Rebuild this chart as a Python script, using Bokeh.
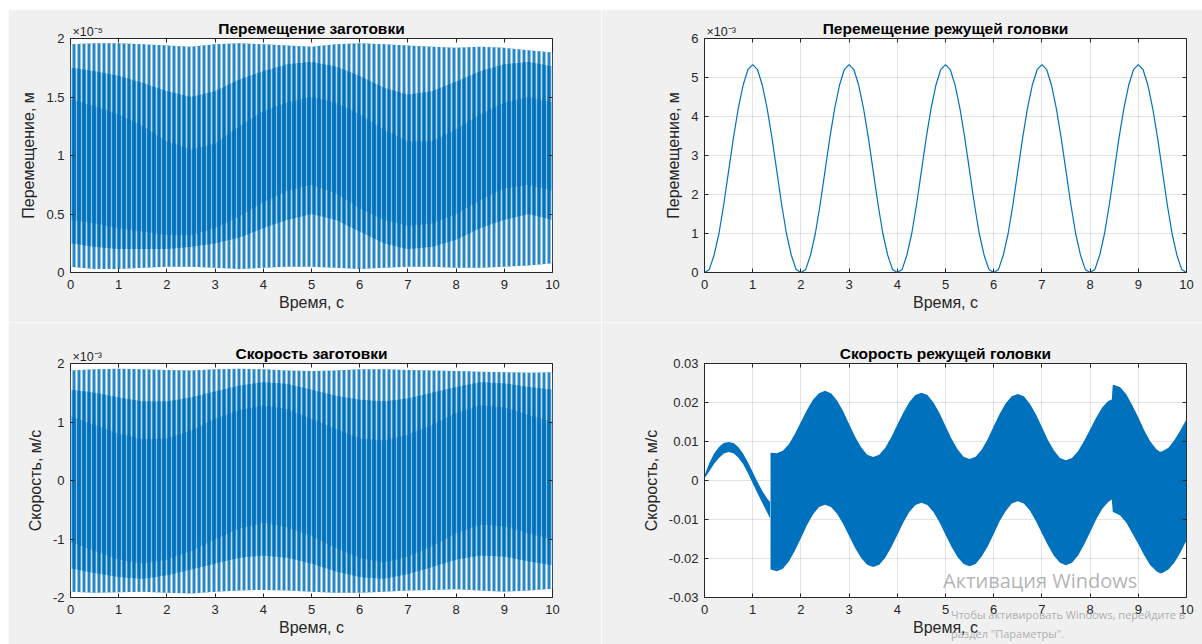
from bokeh.plotting import figure
from bokeh.layouts import row, column, Spacer
from bokeh.models import LinearAxis, FixedTicker, Range1d, Label, Title, Div, CustomJSTickFormatter
from bokeh.embed import file_html
from bokeh.resources import INLINE

# ---------------- data ----------------
time_ticks = [0, 1, 2, 3, 4, 5, 6, 7, 8, 9, 10]

tl_time = [0.0, 0.5, 1.0, 1.5, 2.0, 2.5, 3.0, 3.5, 4.0, 4.5, 5.0, 5.5, 6.0, 6.5, 7.0, 7.5, 8.0, 8.5, 9.0, 9.5, 10.0]
tl_peak_hi = [1.95, 1.96, 1.96, 1.95, 1.94, 1.93, 1.95, 1.96, 1.95, 1.94, 1.93, 1.95, 1.96, 1.95, 1.94, 1.93, 1.92, 1.93, 1.92, 1.90, 1.88]
tl_peak_lo = [0.05, 0.03, 0.03, 0.04, 0.05, 0.05, 0.04, 0.03, 0.04, 0.05, 0.05, 0.04, 0.03, 0.04, 0.05, 0.05, 0.04, 0.04, 0.05, 0.06, 0.08]
tl_bulk_hi = [1.75, 1.72, 1.68, 1.62, 1.55, 1.50, 1.55, 1.65, 1.72, 1.78, 1.80, 1.76, 1.68, 1.58, 1.52, 1.55, 1.63, 1.72, 1.78, 1.80, 1.76]
tl_bulk_lo = [0.25, 0.22, 0.20, 0.20, 0.20, 0.22, 0.25, 0.30, 0.38, 0.45, 0.50, 0.45, 0.35, 0.25, 0.20, 0.22, 0.28, 0.38, 0.45, 0.50, 0.45]
tl_core_hi = [1.48, 1.42, 1.35, 1.25, 1.12, 1.05, 1.10, 1.25, 1.38, 1.45, 1.50, 1.45, 1.35, 1.22, 1.12, 1.12, 1.22, 1.35, 1.45, 1.50, 1.45]
tl_core_lo = [0.45, 0.42, 0.38, 0.35, 0.32, 0.32, 0.38, 0.48, 0.60, 0.70, 0.75, 0.68, 0.55, 0.45, 0.40, 0.42, 0.50, 0.62, 0.72, 0.75, 0.70]
tl_yticks = [0, 0.5, 1, 1.5, 2]

tr_time = [0.0, 0.1, 0.2, 0.3, 0.4, 0.5, 0.6, 0.7, 0.8, 0.9,
           1.0, 1.1, 1.2, 1.3, 1.4, 1.5, 1.6, 1.7, 1.8, 1.9,
           2.0, 2.1, 2.2, 2.3, 2.4, 2.5, 2.6, 2.7, 2.8, 2.9,
           3.0, 3.1, 3.2, 3.3, 3.4, 3.5, 3.6, 3.7, 3.8, 3.9,
           4.0, 4.1, 4.2, 4.3, 4.4, 4.5, 4.6, 4.7, 4.8, 4.9,
           5.0, 5.1, 5.2, 5.3, 5.4, 5.5, 5.6, 5.7, 5.8, 5.9,
           6.0, 6.1, 6.2, 6.3, 6.4, 6.5, 6.6, 6.7, 6.8, 6.9,
           7.0, 7.1, 7.2, 7.3, 7.4, 7.5, 7.6, 7.7, 7.8, 7.9,
           8.0, 8.1, 8.2, 8.3, 8.4, 8.5, 8.6, 8.7, 8.8, 8.9,
           9.0, 9.1, 9.2, 9.3, 9.4, 9.5, 9.6, 9.7, 9.8, 9.9, 10.0]
tr_disp = [0.00, 0.08, 0.45, 1.00, 1.75, 2.60, 3.45, 4.20, 4.80, 5.20,
           5.33, 5.20, 4.80, 4.20, 3.45, 2.60, 1.75, 1.00, 0.45, 0.08,
           0.00, 0.08, 0.45, 1.00, 1.75, 2.60, 3.45, 4.20, 4.80, 5.20,
           5.33, 5.20, 4.80, 4.20, 3.45, 2.60, 1.75, 1.00, 0.45, 0.08,
           0.00, 0.08, 0.45, 1.00, 1.75, 2.60, 3.45, 4.20, 4.80, 5.20,
           5.33, 5.20, 4.80, 4.20, 3.45, 2.60, 1.75, 1.00, 0.45, 0.08,
           0.00, 0.08, 0.45, 1.00, 1.75, 2.60, 3.45, 4.20, 4.80, 5.20,
           5.33, 5.20, 4.80, 4.20, 3.45, 2.60, 1.75, 1.00, 0.45, 0.08,
           0.00, 0.08, 0.45, 1.00, 1.75, 2.60, 3.45, 4.20, 4.80, 5.20,
           5.33, 5.20, 4.80, 4.20, 3.45, 2.60, 1.75, 1.00, 0.45, 0.08, 0.00]
tr_yticks = [0, 1, 2, 3, 4, 5, 6]

bl_time = tl_time
bl_peak_hi = [1.88, 1.90, 1.91, 1.90, 1.89, 1.88, 1.90, 1.91, 1.90, 1.88, 1.87, 1.88, 1.90, 1.90, 1.89, 1.88, 1.87, 1.86, 1.85, 1.84, 1.85]
bl_peak_lo = [-1.90, -1.92, -1.91, -1.90, -1.92, -1.93, -1.90, -1.88, -1.87, -1.88, -1.90, -1.92, -1.92, -1.90, -1.88, -1.87, -1.86, -1.88, -1.90, -1.88, -1.85]
bl_bulk_hi = [1.55, 1.50, 1.42, 1.35, 1.35, 1.42, 1.52, 1.62, 1.68, 1.65, 1.55, 1.45, 1.38, 1.35, 1.40, 1.50, 1.60, 1.68, 1.66, 1.60, 1.55]
bl_bulk_lo = [-1.50, -1.58, -1.65, -1.68, -1.62, -1.52, -1.42, -1.32, -1.28, -1.32, -1.42, -1.55, -1.65, -1.68, -1.60, -1.48, -1.35, -1.28, -1.30, -1.38, -1.45]
bl_core_hi = [1.10, 0.95, 0.80, 0.70, 0.72, 0.85, 1.05, 1.20, 1.28, 1.22, 1.05, 0.88, 0.72, 0.68, 0.78, 0.95, 1.15, 1.28, 1.25, 1.12, 1.00]
bl_core_lo = [-1.05, -1.20, -1.35, -1.42, -1.35, -1.20, -1.00, -0.82, -0.72, -0.80, -0.95, -1.15, -1.32, -1.40, -1.30, -1.12, -0.90, -0.75, -0.78, -0.90, -1.00]
bl_yticks = [-2, -1, 0, 1, 2]

br_time1 = [0.0, 0.1, 0.2, 0.3, 0.4, 0.5, 0.6, 0.7, 0.8, 0.9, 1.0, 1.1, 1.2, 1.3, 1.36]
br_hi1 = [0.0013, 0.0045, 0.0069, 0.0086, 0.0096, 0.0099, 0.0096, 0.0086, 0.0069, 0.0047, 0.0022, -0.0004, -0.0027, -0.0046, -0.0055]
br_lo1 = [0.0006, 0.0024, 0.0043, 0.0058, 0.0069, 0.0073, 0.0070, 0.0059, 0.0042, 0.0019, -0.0007, -0.0033, -0.0058, -0.0082, -0.0097]
br_time2 = [1.37, 1.5, 1.625, 1.75, 1.875, 2.0, 2.125, 2.25, 2.375, 2.5,
            2.625, 2.75, 2.875, 3.0, 3.125, 3.25, 3.375, 3.5,
            3.625, 3.75, 3.875, 4.0, 4.125, 4.25, 4.375, 4.5,
            4.625, 4.75, 4.875, 5.0, 5.125, 5.25, 5.375, 5.5,
            5.625, 5.75, 5.875, 6.0, 6.125, 6.25, 6.375, 6.5,
            6.625, 6.75, 6.875, 7.0, 7.125, 7.25, 7.375, 7.5,
            7.625, 7.75, 7.875, 8.0, 8.125, 8.25, 8.375,
            8.45, 8.47,
            8.5, 8.625, 8.75, 8.875, 9.0, 9.125, 9.25, 9.375,
            9.45,
            9.5, 9.625, 9.75, 9.875, 10.0]
br_hi2 = [0.0071, 0.0070, 0.0076, 0.0093, 0.0119, 0.0150, 0.0181, 0.0207, 0.0224, 0.0230,
          0.0224, 0.0205, 0.0178, 0.0145, 0.0112, 0.0085, 0.0066, 0.0060,
          0.0066, 0.0084, 0.0111, 0.0143, 0.0174, 0.0201, 0.0219, 0.0225,
          0.0219, 0.0200, 0.0173, 0.0140, 0.0107, 0.0080, 0.0061, 0.0055,
          0.0061, 0.0079, 0.0106, 0.0139, 0.0171, 0.0198, 0.0216, 0.0222,
          0.0216, 0.0197, 0.0170, 0.0137, 0.0104, 0.0077, 0.0058, 0.0052,
          0.0058, 0.0075, 0.0101, 0.0131, 0.0161, 0.0187, 0.0204,
          0.0208, 0.0245,
          0.0245, 0.0239, 0.0221, 0.0193, 0.0162, 0.0128, 0.0100, 0.0080,
          0.0074,
          0.0075, 0.0084, 0.0104, 0.0129, 0.0157]
br_lo2 = [-0.0228, -0.0233, -0.0226, -0.0208, -0.0180, -0.0148, -0.0115, -0.0087, -0.0068, -0.0062,
          -0.0068, -0.0085, -0.0111, -0.0142, -0.0173, -0.0199, -0.0216, -0.0222,
          -0.0216, -0.0198, -0.0171, -0.0140, -0.0108, -0.0081, -0.0063, -0.0057,
          -0.0063, -0.0081, -0.0107, -0.0139, -0.0170, -0.0196, -0.0214, -0.0220,
          -0.0214, -0.0195, -0.0169, -0.0137, -0.0104, -0.0078, -0.0059, -0.0053,
          -0.0059, -0.0077, -0.0104, -0.0135, -0.0166, -0.0193, -0.0211, -0.0217,
          -0.0211, -0.0192, -0.0165, -0.0133, -0.0100, -0.0073, -0.0055,
          -0.0049, -0.0080,
          -0.0082, -0.0090, -0.0108, -0.0135, -0.0163, -0.0192, -0.0217, -0.0233,
          -0.0238,
          -0.0237, -0.0228, -0.0210, -0.0184, -0.0154]
br_yticks = [-0.03, -0.02, -0.01, 0, 0.01, 0.02, 0.03]

titles = ["Перемещение заготовки", "Перемещение режущей головки",
          "Скорость заготовки", "Скорость режущей головки"]
xlabel = "Время, с"
ylabels = ["Перемещение, м", "Перемещение, м", "Скорость, м/с", "Скорость, м/с"]
exponents = ["×10⁻⁵", "×10⁻³", "×10⁻³", None]
watermark = ["Активация Windows", "Чтобы активировать Windows, перейдите в", "раздел \"Параметры\"."]

# ---------------- style ----------------
BLUE = "#0072BD"
AX = "#262626"
BG = "#F0F0F0"
FONT = "Liberation Sans"

FMT = CustomJSTickFormatter(code="""
  if (Math.abs(tick) < 1e-12) { return "0"; }
  return String(Math.round(tick * 10000) / 10000);
""")
BLANK = CustomJSTickFormatter(code="return '';")


def make_fig(w, h, bl, br, bt, bb, title, ylabel, yr, yticks, grid, expo):
    p = figure(width=w, height=h, x_range=Range1d(0, 10), y_range=Range1d(*yr),
               output_backend="svg", toolbar_location=None,
               min_border_left=bl, min_border_right=br, min_border_top=bt, min_border_bottom=bb,
               background_fill_color="white", border_fill_color=BG,
               outline_line_color=AX, outline_line_width=1)

    xa = p.xaxis[0]
    ya = p.yaxis[0]
    xa.ticker = FixedTicker(ticks=time_ticks)
    ya.ticker = FixedTicker(ticks=yticks)
    xa.axis_label = xlabel
    ya.axis_label = ylabel
    for ax in (xa, ya):
        ax.formatter = FMT
        ax.major_tick_in = 4
        ax.major_tick_out = 0
        ax.minor_tick_in = 0
        ax.minor_tick_out = 0
        ax.axis_line_color = None
        ax.major_tick_line_color = AX
        ax.major_label_text_font = FONT
        ax.major_label_text_font_size = "13px"
        ax.major_label_text_color = AX
        ax.major_label_standoff = 6
        ax.axis_label_text_font = FONT
        ax.axis_label_text_font_size = "16px"
        ax.axis_label_text_font_style = "normal"
        ax.axis_label_text_color = AX
        ax.axis_label_standoff = 6
    xa.major_label_standoff = 7
    xa.axis_label_standoff = 2

    for place, ticks in (("above", time_ticks), ("right", yticks)):
        ax = LinearAxis(ticker=FixedTicker(ticks=ticks), formatter=BLANK,
                        major_label_text_font_size="1px",
                        major_tick_in=4, major_tick_out=0, minor_tick_in=0, minor_tick_out=0,
                        major_label_standoff=0, axis_line_color=None, major_tick_line_color=AX)
        p.add_layout(ax, place)

    p.add_layout(Title(text=title, align="center", text_font=FONT, text_font_size="15.5px",
                       text_font_style="bold", text_color="#000000", standoff=3), "above")
    if expo:
        # exponent of the y axis, drawn just above the top-left corner of the axes
        p.add_layout(Title(text=expo, align="left", text_font=FONT, text_font_size="12.5px",
                           text_font_style="normal", text_color=AX, standoff=-44, offset=2), "above")

    if grid:
        p.xgrid.ticker = FixedTicker(ticks=time_ticks)
        p.ygrid.ticker = FixedTicker(ticks=yticks)
        p.grid.grid_line_color = AX
        p.grid.grid_line_alpha = 0.13
    else:
        p.grid.visible = False
    return p


def dense(p, t, plo, phi, blo, bhi, clo, chi):
    p.varea(x=t, y1=plo, y2=phi, fill_color=BLUE, fill_alpha=0.85,
            hatch_pattern="vertical_line", hatch_color="white", hatch_weight=2.0,
            hatch_scale=5, hatch_alpha=1.0)
    p.varea(x=t, y1=blo, y2=bhi, fill_color=BLUE, fill_alpha=1.0,
            hatch_pattern="vertical_line", hatch_color="white", hatch_weight=1.6,
            hatch_scale=5, hatch_alpha=0.72)
    p.varea(x=t, y1=clo, y2=chi, fill_color=BLUE, fill_alpha=1.0,
            hatch_pattern="vertical_line", hatch_color="white", hatch_weight=1.2,
            hatch_scale=5, hatch_alpha=0.55)


tl = make_fig(593, 313, 62, 49, 29, 50, titles[0], ylabels[0], (0, 2), tl_yticks, False, exponents[0])
dense(tl, tl_time, tl_peak_lo, tl_peak_hi, tl_bulk_lo, tl_bulk_hi, tl_core_lo, tl_core_hi)

tr = make_fig(601, 313, 103, 16, 29, 50, titles[1], ylabels[1], (0, 6), tr_yticks, True, exponents[1])
tr.line(x=tr_time, y=tr_disp, line_color=BLUE, line_width=1.2)

bl = make_fig(593, 322, 62, 49, 41, 47, titles[2], ylabels[2], (-2, 2), bl_yticks, False, exponents[2])
dense(bl, bl_time, bl_peak_lo, bl_peak_hi, bl_bulk_lo, bl_bulk_hi, bl_core_lo, bl_core_hi)

br = make_fig(601, 322, 103, 16, 41, 47, titles[3], ylabels[3], (-0.03, 0.03), br_yticks, True, exponents[3])
br.varea(x=br_time1, y1=br_lo1, y2=br_hi1, fill_color=BLUE)
br.varea(x=br_time2, y1=br_lo2, y2=br_hi2, fill_color=BLUE)

wm = "#9A9A9A"
br.add_layout(Label(x=4.95, y=-0.03, y_offset=4, text=watermark[0], text_font="Open Sans",
                    text_font_size="20px", text_color=wm, text_alpha=0.75, text_baseline="bottom"))

wm_div = Div(text=watermark[1] + "<br>" + watermark[2], width=250, height=40,
             styles={"position": "absolute", "left": "946px", "top": "600px",
                     "font-family": "Open Sans", "font-size": "11px", "line-height": "19px",
                     "color": "rgba(150,150,150,0.75)", "white-space": "nowrap",
                     "pointer-events": "none"})

grid_block = column(row(tl, tr), row(bl, br))
layout = column(Spacer(width=1202, height=9), row(Spacer(width=8, height=635), grid_block), wm_div)

open("out.html", "w").write(file_html(layout, INLINE))
